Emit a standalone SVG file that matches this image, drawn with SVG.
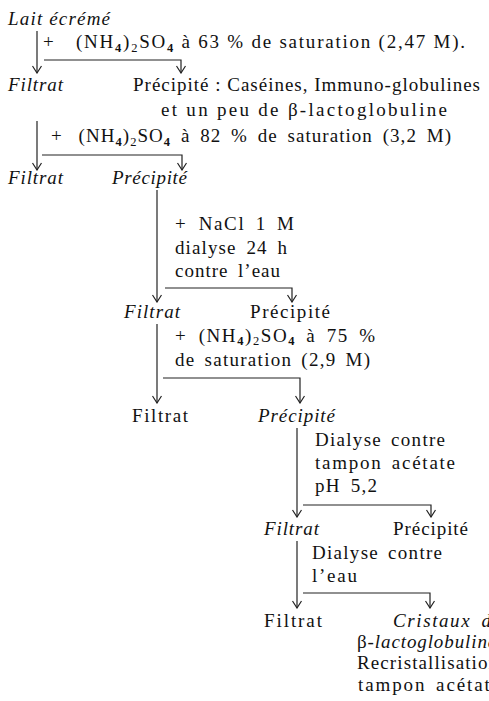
<svg xmlns="http://www.w3.org/2000/svg" width="489" height="701" viewBox="0 0 489 701">
<style>
text{font-family:"Liberation Serif","Times New Roman",serif;font-size:19px;fill:#111;}
.i{font-style:italic;}
.sb{font-size:12.5px;font-weight:bold;}
.sn{font-size:12.5px;}
.c{fill:none;stroke:#222;stroke-width:1.2;}
</style>
<defs>
<marker id="ah" viewBox="-8 -5 9 10" refX="0" refY="0" markerWidth="9" markerHeight="10" orient="auto" markerUnits="userSpaceOnUse">
<path d="M-7,-4.5 L0,0 L-7,4.5" fill="none" stroke="#222" stroke-width="1.2"/>
</marker>
</defs>
<g id="connectors">
<path class="c" d="M37,31 V73" marker-end="url(#ah)"/>
<path class="c" d="M44,60 H181 V73" marker-end="url(#ah)"/>
<path class="c" d="M37,121 V170" marker-end="url(#ah)"/>
<path class="c" d="M42,155 H182 V170" marker-end="url(#ah)"/>
<path class="c" d="M157,190 V302" marker-end="url(#ah)"/>
<path class="c" d="M165,288 H292 V302" marker-end="url(#ah)"/>
<path class="c" d="M157,324 V403" marker-end="url(#ah)"/>
<path class="c" d="M163,378 H300 V403" marker-end="url(#ah)"/>
<path class="c" d="M297,428 V517" marker-end="url(#ah)"/>
<path class="c" d="M303,505 H431 V517" marker-end="url(#ah)"/>
<path class="c" d="M297,541 V608" marker-end="url(#ah)"/>
<path class="c" d="M303,593 H430 V608" marker-end="url(#ah)"/>
</g>
<g id="lait"><text class="i" x="8" y="25" textLength="102" lengthAdjust="spacing">Lait écrémé</text></g>
<g id="step1"><text x="43" y="48" textLength="422" lengthAdjust="spacing">+<tspan dx="14"> (NH</tspan><tspan class="sb" dy="3.5">4</tspan><tspan dy="-3.5">)</tspan><tspan class="sn" dy="3.5">2</tspan><tspan dy="-3.5">SO</tspan><tspan class="sb" dy="3.5">4</tspan><tspan dy="-3.5"> à 63 % de saturation (2,47 M).</tspan></text></g>
<g id="filtrat1"><text class="i" x="8" y="91" textLength="55" lengthAdjust="spacing">Filtrat</text></g>
<g id="precipite1">
<text x="133" y="91" textLength="347" lengthAdjust="spacing">Précipité : Caséines, Immuno-globulines</text>
<text x="161" y="116" textLength="286" lengthAdjust="spacing">et un peu de β-lactoglobuline</text>
</g>
<g id="step2"><text x="51" y="142" textLength="400" lengthAdjust="spacing">+<tspan dx="10"> (NH</tspan><tspan class="sb" dy="3.5">4</tspan><tspan dy="-3.5">)</tspan><tspan class="sn" dy="3.5">2</tspan><tspan dy="-3.5">SO</tspan><tspan class="sb" dy="3.5">4</tspan><tspan dy="-3.5" dx="4"> à</tspan><tspan dx="4"> 82</tspan><tspan dx="4"> %</tspan><tspan dx="4"> de</tspan><tspan dx="4"> saturation</tspan><tspan dx="4"> (3,2</tspan><tspan dx="4"> M)</tspan></text></g>
<g id="filtrat2"><text class="i" x="8" y="184" textLength="55" lengthAdjust="spacing">Filtrat</text></g>
<g id="precipite2"><text class="i" x="112" y="184" textLength="75" lengthAdjust="spacing">Précipité</text></g>
<g id="step3">
<text x="175" y="230" textLength="119" lengthAdjust="spacing">+<tspan dx="5"> NaCl</tspan><tspan dx="4"> 1</tspan><tspan dx="4"> M</tspan></text>
<text x="175" y="254" textLength="112" lengthAdjust="spacing">dialyse<tspan dx="4"> 24</tspan><tspan dx="4"> h</tspan></text>
<text x="175" y="277" textLength="105" lengthAdjust="spacing">contre<tspan dx="4"> l’eau</tspan></text>
</g>
<g id="filtrat3"><text class="i" x="124" y="318" textLength="56" lengthAdjust="spacing">Filtrat</text></g>
<g id="precipite3"><text x="250" y="318" textLength="80" lengthAdjust="spacing">Précipité</text></g>
<g id="step4">
<text x="175" y="342" textLength="200" lengthAdjust="spacing">+<tspan dx="5"> (NH</tspan><tspan class="sb" dy="3">4</tspan><tspan dy="-3">)</tspan><tspan class="sn" dy="3">2</tspan><tspan dy="-3">SO</tspan><tspan class="sb" dy="3">4</tspan><tspan dy="-3" dx="4"> à</tspan><tspan dx="4"> 75</tspan><tspan dx="4"> %</tspan></text>
<text x="175" y="366" textLength="195" lengthAdjust="spacing">de<tspan dx="3"> saturation</tspan><tspan dx="3"> (2,9</tspan><tspan dx="3"> M)</tspan></text>
</g>
<g id="filtrat4"><text x="132" y="422" textLength="56" lengthAdjust="spacing">Filtrat</text></g>
<g id="precipite4"><text class="i" x="258" y="422" textLength="77" lengthAdjust="spacing">Précipité</text></g>
<g id="step5">
<text x="315" y="446" textLength="130" lengthAdjust="spacing">Dialyse<tspan dx="3"> contre</tspan></text>
<text x="315" y="469" textLength="140" lengthAdjust="spacing">tampon<tspan dx="3"> acétate</tspan></text>
<text x="315" y="492" textLength="62" lengthAdjust="spacing">pH<tspan dx="4"> 5,2</tspan></text>
</g>
<g id="filtrat5"><text class="i" x="264" y="535" textLength="55" lengthAdjust="spacing">Filtrat</text></g>
<g id="precipite5"><text x="393" y="535" textLength="75" lengthAdjust="spacing">Précipité</text></g>
<g id="step6">
<text x="312" y="559" textLength="130" lengthAdjust="spacing">Dialyse<tspan dx="3"> contre</tspan></text>
<text x="312" y="582" textLength="45" lengthAdjust="spacing">l’eau</text>
</g>
<g id="filtrat6"><text x="264" y="627" textLength="58" lengthAdjust="spacing">Filtrat</text></g>
<g id="cristaux">
<text class="i" x="393" y="627" letter-spacing="1.6">Cristaux<tspan dx="4"> de</tspan></text>
<text x="357" y="648" letter-spacing="0.9">β-<tspan class="i">lactoglobuline</tspan></text>
<text x="357" y="669" letter-spacing="1.1">Recristallisation</text>
<text x="358" y="691" letter-spacing="1.9">tampon<tspan dx="3"> acétate</tspan></text>
</g>
</svg>
